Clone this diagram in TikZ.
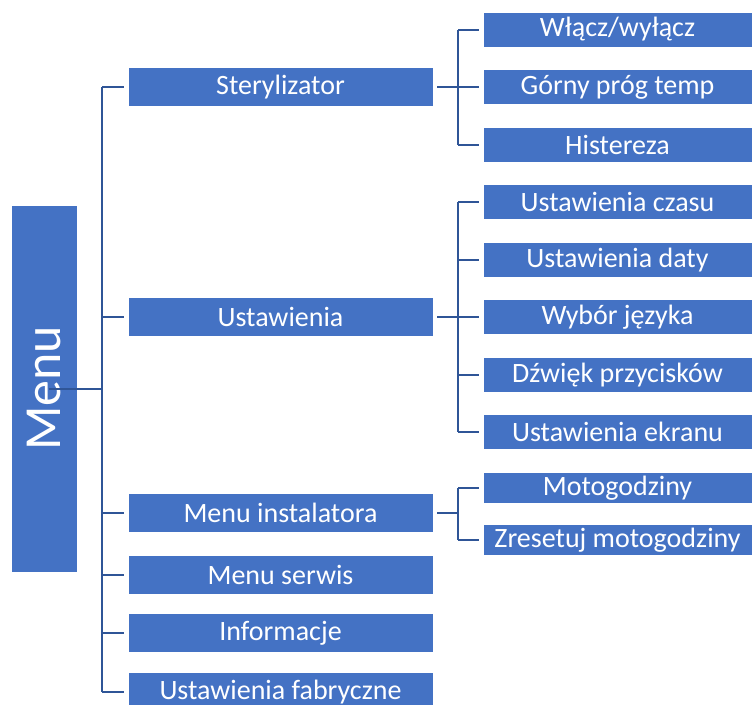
\documentclass[tikz,border=0pt]{standalone}
\usepackage{fontspec}
\setmainfont{Carlito}
\definecolor{boxblue}{HTML}{4472C4}
\definecolor{lineblue}{HTML}{2F5597}
\usetikzlibrary{positioning,calc}

\begin{document}
\begin{tikzpicture}[x=0.75pt,y=-0.75pt,
      root/.style={draw=white,line width=0.6pt,fill=boxblue,inner sep=0pt,
                minimum width=275.25pt,minimum height=49.5pt,
                font=\fontsize{39}{42}\selectfont,text=white},
      lvl/.style={draw=white,line width=0.6pt,fill=boxblue,inner sep=0pt,
                minimum width=228.75pt,minimum height=29.25pt,
                font=\fontsize{21}{23}\selectfont,text=white},
      sub/.style={lvl,minimum width=201.75pt,minimum height=26.25pt},
      ln/.style={draw=lineblue,line width=1.5pt}]
  \useasboundingbox (0,0) rectangle (752,704);
  \clip (0,0) rectangle (752,704);
  % root
  \node[root,rotate=90] (menu) at (44,388.5) {Menu};
  % first level
  \node[lvl] (ster) at (280.5,87)  {Sterylizator};
  \node[lvl] (ust)  at (280.5,317) {Ustawienia};
  \node[lvl] (inst) at (280.5,513) {Menu instalatora};
  \node[lvl] (serw) at (280.5,575) {Menu serwis};
  \node[lvl] (info) at (280.5,633) {Informacje};
  \node[lvl] (fab)  at (280.5,692) {Ustawienia fabryczne};
  % second level
  \node[sub] (wl)   at (617.5,29.5)  {Włącz/wyłącz};
  \node[sub] (gorn) at (617.5,87)    {Górny próg temp};
  \node[sub] (hist) at (617.5,144.5) {Histereza};
  \node[sub] (czas) at (617.5,202)   {Ustawienia czasu};
  \node[sub] (daty) at (617.5,260)   {Ustawienia daty};
  \node[sub] (jez)  at (617.5,317)   {Wybór języka};
  \node[sub] (dzw)  at (617.5,375)   {Dźwięk przycisków};
  \node[sub] (ekr)  at (617.5,432)   {Ustawienia ekranu};
  \node[sub,minimum height=23.25pt] (moto) at (617.5,488) {Motogodziny};
  \node[sub,minimum height=23.25pt] (zres) at (617.5,540) {Zresetuj motogodziny};
  % trunk
  \coordinate (bus) at (102,388.5);
  \draw[ln] ([xshift=3.5pt]menu.east |- bus) -- (bus);
  \draw[ln] (bus |- ster) -- (bus |- fab);
  \foreach \n in {ster,ust,inst,serw,info,fab}
    \draw[ln] (bus |- \n) -- ([xshift=-3pt]\n.west);
  % brackets
  \coordinate (br1) at (458,87);
  \coordinate (br2) at (458,317);
  \coordinate (br3) at (458,513);
  \draw[ln] ([xshift=3pt]ster.east) -- (br1);
  \draw[ln] ([xshift=3pt]ust.east) -- (br2);
  \draw[ln] ([xshift=3pt]inst.east) -- (br3);
  \draw[ln] (br1 |- wl) -- (br1 |- hist);
  \draw[ln] (br2 |- czas) -- (br2 |- ekr);
  \draw[ln] (br3 |- moto) -- (br3 |- zres);
  \foreach \n/\b in {wl/br1,gorn/br1,hist/br1,czas/br2,daty/br2,jez/br2,dzw/br2,ekr/br2,moto/br3,zres/br3}
    \draw[ln] (\b |- \n) -- ([xshift=-3pt]\n.west);
\end{tikzpicture}
\end{document}
